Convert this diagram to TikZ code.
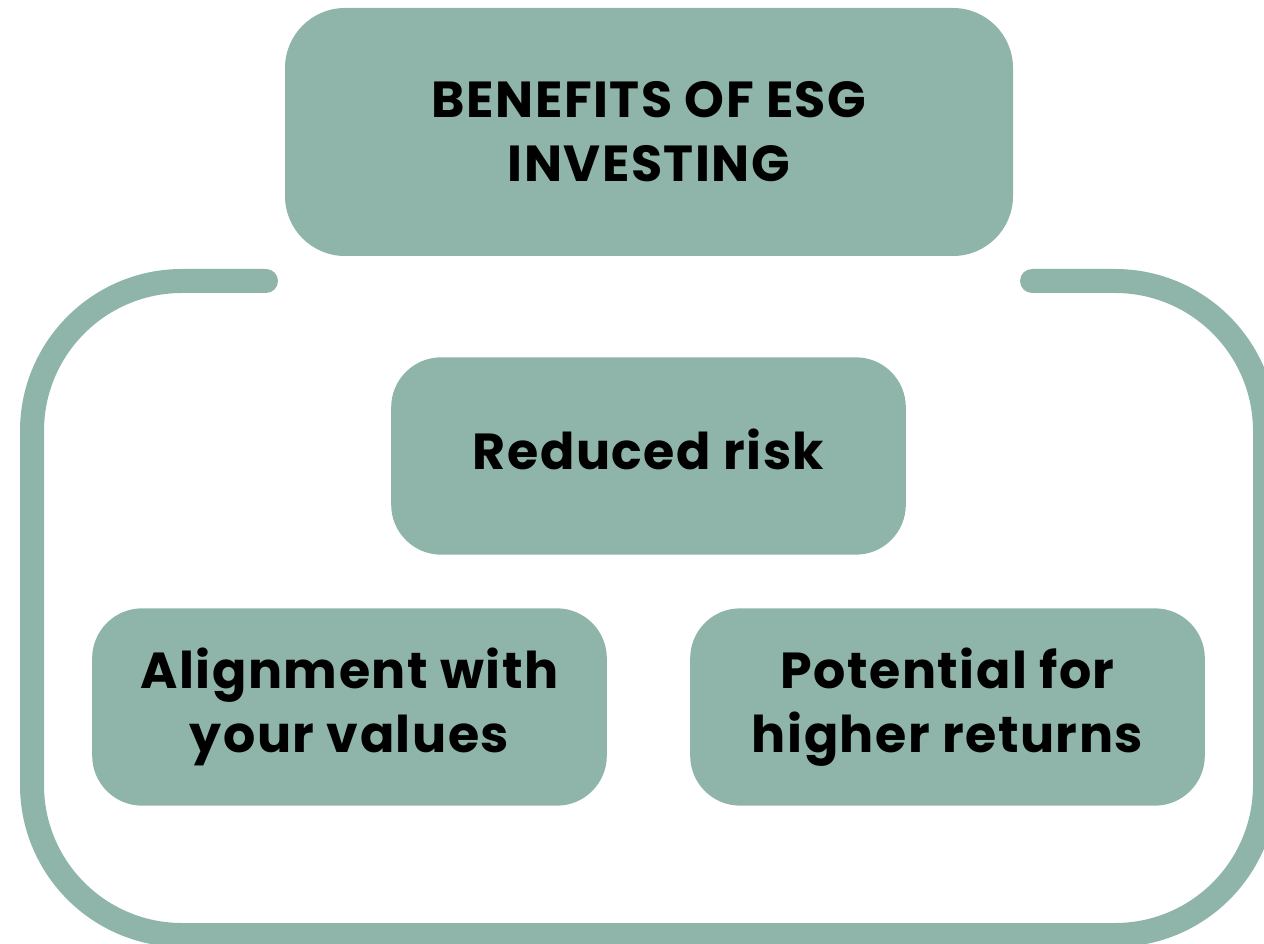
\documentclass[tikz,border=0pt]{standalone}
\usepackage{fontspec}
\setmainfont{Poppins}[LetterSpace=3]
\definecolor{sage}{RGB}{143,181,170}
\tikzset{every picture/.style={line width=0.75pt}}
\tikzset{
	benefit/.style={fill=sage, draw=none, rounded corners=37.5pt, align=center,
		minimum width=386pt, minimum height=148pt, inner sep=0pt,
		font=\fontsize{38}{48}\selectfont\bfseries},
	headbox/.style={benefit, rounded corners=45pt, minimum width=546pt, minimum height=186pt},
	loopline/.style={draw=sage, line width=18pt, line cap=round}}

\begin{document}
\begin{tikzpicture}[x=0.75pt,y=0.75pt,yscale=-1,xscale=1]
	\useasboundingbox (0,0) rectangle (1264,944);

	%Shape: Open loop
	\draw [loopline] (266,281) -- (182,281) arc (270:180:150) -- (32,785) arc (180:90:150) -- (1115,935) arc (90:0:150) -- (1265,431) arc (0:-90:150) -- (1032,281) ;

	% Title
	\node [headbox] (esg) at (649,132) {BENEFITS OF ESG\\INVESTING};
	% Benefits
	\node [benefit, text depth=10pt] (risk) at (648.5,456) {Reduced risk};
	\node [benefit] (values) at (349.5,707) {Alignment with\\your values};
	\node [benefit] (returns) at (947.5,707) {Potential for\\higher returns};

\end{tikzpicture}
\end{document}
